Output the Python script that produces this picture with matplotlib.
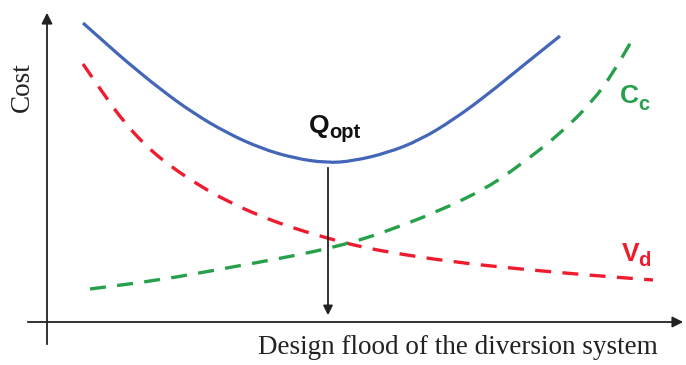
import numpy as np
import matplotlib.pyplot as plt
from matplotlib.path import Path
from matplotlib.patches import PathPatch

# curves (x = design flood, y = cost, screen-like units, y grows downward)
total_x = [83, 110, 127, 160, 193, 227, 260, 293, 327, 353, 387, 420, 453, 487, 520, 560]
total_y = [23, 47, 62, 89, 113, 133, 148, 158, 163, 161, 153, 140, 120, 95, 68, 36]

vd_x = [83, 103, 123, 147, 170, 200, 227, 260, 293, 327, 353, 387, 453, 520, 587, 653]
vd_y = [64, 93, 121, 147, 166, 186, 201, 216, 228, 238, 245, 252, 262, 269, 275, 280]

cc_x = [90, 160, 227, 293, 330, 360, 387, 437, 487, 520, 560, 593, 613, 635]
cc_y = [289, 280, 268, 256, 248, 240, 231, 212, 188, 165, 134, 101, 73, 35]

q_opt = 328

blue = '#4466b8'
red = '#ee1c2e'
green = '#26a04a'
ink = '#222222'


def smooth_curve(ax, xs, ys, **kw):
    # draw through the read points with quadratic bezier segments (midpoint scheme)
    pts = np.column_stack([xs, ys]).astype(float)
    verts = [pts[0], (pts[0] + pts[1]) / 2]
    codes = [Path.MOVETO, Path.LINETO]
    for i in range(1, len(pts) - 1):
        verts += [pts[i], (pts[i] + pts[i + 1]) / 2]
        codes += [Path.CURVE3, Path.CURVE3]
    verts.append(pts[-1])
    codes.append(Path.LINETO)
    ax.add_patch(PathPatch(Path(verts, codes), fill=False, **kw))


fig = plt.figure(figsize=(6.86, 3.65), dpi=100)
ax = fig.add_axes([0, 0, 1, 1])
ax.set_xlim(0, 686)
ax.set_ylim(365, 0)
ax.axis('off')

smooth_curve(ax, total_x, total_y, edgecolor=blue, lw=2.3, capstyle='butt')
smooth_curve(ax, vd_x, vd_y, edgecolor=red, lw=2.4, linestyle=(0, (4.8, 3.4)), capstyle='butt')
smooth_curve(ax, cc_x, cc_y, edgecolor=green, lw=2.4, linestyle=(0, (4.8, 3.4)), capstyle='butt')

# axes with arrows
ax.annotate('', xy=(47, 10), xytext=(47, 347),
            arrowprops=dict(arrowstyle='-|>', color=ink, lw=1.3, mutation_scale=16))
ax.annotate('', xy=(686, 322), xytext=(25, 322),
            arrowprops=dict(arrowstyle='-|>', color=ink, lw=1.3, mutation_scale=16))
# optimum marker arrow
ax.annotate('', xy=(q_opt, 318), xytext=(q_opt, 165),
            arrowprops=dict(arrowstyle='-|>', color=ink, lw=1.3, mutation_scale=14))

ax.text(22, 87, 'Cost', rotation=90, ha='center', va='center',
        family='Liberation Serif', fontsize=19.5, color=ink)
ax.text(458, 348, 'Design flood of the diversion system', ha='center', va='center',
        family='Liberation Serif', fontsize=19.5, color=ink)

sans = dict(family='Liberation Sans', weight='bold')
# Q_opt
ax.text(330, 133, 'Q', ha='right', va='baseline', fontsize=19, color='#111111', **sans)
ax.text(329, 138, 'opt', ha='left', va='baseline', fontsize=14.5, color='#111111', **sans)
# C_c
ax.text(639, 103, 'C', ha='right', va='baseline', fontsize=19, color=green, **sans)
ax.text(638, 110, 'c', ha='left', va='baseline', fontsize=14.5, color=green, **sans)
# V_d
ax.text(639, 261, 'V', ha='right', va='baseline', fontsize=19, color=red, **sans)
ax.text(638, 266, 'd', ha='left', va='baseline', fontsize=14.5, color=red, **sans)

fig.savefig('out.png', dpi=100)
